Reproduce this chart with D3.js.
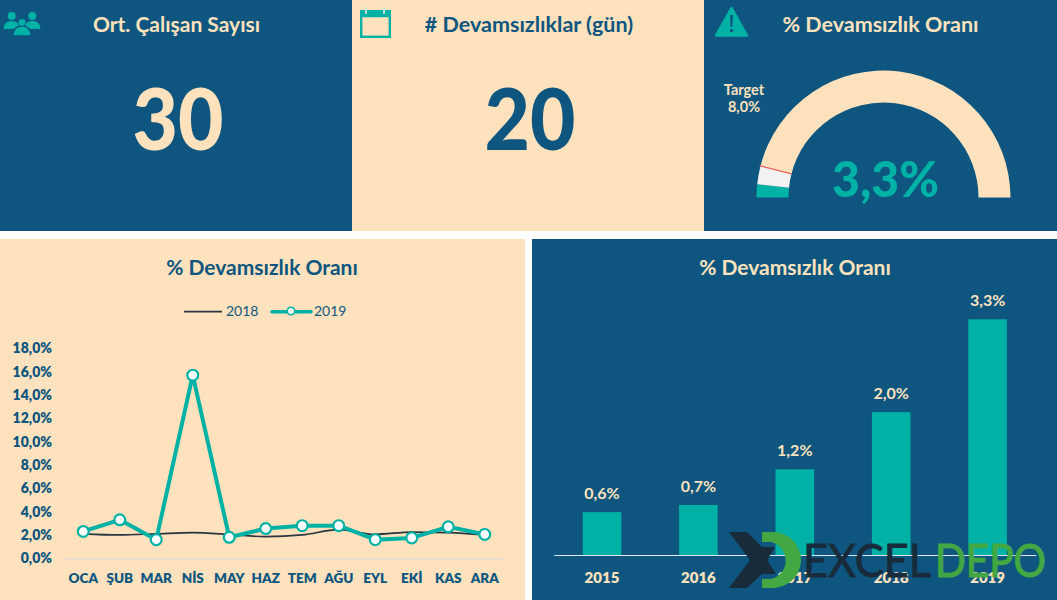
<!DOCTYPE html>
<html>
<head>
<meta charset="utf-8">
<script src="https://cdn.jsdelivr.net/npm/d3@7"></script>
<style>
    body { margin: 0; background: #fff; }
    svg { display: block; }
    text { font-family: Lato, sans-serif; }
</style>
</head>
<body>
<div id="chart"></div>
<script>
const months = ["OCA", "ŞUB", "MAR", "NİS", "MAY", "HAZ", "TEM", "AĞU", "EYL", "EKİ", "KAS", "ARA"];
const rate2018 = [2.1, 2.0, 2.1, 2.2, 2.05, 1.85, 2.0, 2.45, 2.05, 2.25, 2.2, 2.0];
const rate2019 = [2.3, 3.3, 1.6, 15.7, 1.8, 2.55, 2.8, 2.8, 1.6, 1.75, 2.7, 2.05];
const yTicks = [0, 2, 4, 6, 8, 10, 12, 14, 16, 18];
const years = ["2015", "2016", "2017", "2018", "2019"];
const yearRates = [0.6, 0.7, 1.2, 2.0, 3.3];
const gaugeParts = [3.3, 4.7, 92];
const gaugeTarget = 8;

const navy = "#0e5680", cream = "#fde2bd", teal = "#00b2a5";
const pct = v => v.toFixed(1).replace(".", ",") + "%";

const svg = d3.select("#chart").append("svg").attr("width", 1057).attr("height", 600);

function panel(x, y, w, h, fill) {
    svg.append("rect").attr("x", x).attr("y", y).attr("width", w).attr("height", h).attr("fill", fill);
}

function label(x, y, str, size, fill, weight) {
    return svg.append("text").attr("x", x).attr("y", y).attr("text-anchor", "middle")
        .attr("font-size", size).attr("font-weight", weight || 700).attr("fill", fill).text(str);
}

panel(0, 0, 352, 231, navy);
panel(352, 0, 352, 231, cream);
panel(704, 0, 353, 231, navy);
panel(0, 239, 525, 361, cream);
panel(532, 239, 525, 361, navy);

// top row
label(176.5, 32, "Ort. Çalışan Sayısı", 21, cream);
label(178, 150, "30", 85, cream, 900).attr("textLength", 91).attr("lengthAdjust", "spacingAndGlyphs");
label(529, 32, "# Devamsızlıklar (gün)", 21.5, navy);
label(530, 150, "20", 85, navy, 900).attr("textLength", 91).attr("lengthAdjust", "spacingAndGlyphs");
label(880.5, 32, "% Devamsızlık Oranı", 21.5, cream);

// icons
function peopleIcon() {
    const g = svg.append("g").attr("fill", teal);
    [[11.7, 16], [32.3, 16]].forEach(c => {
        g.append("circle").attr("cx", c[0]).attr("cy", c[1]).attr("r", 4);
        g.append("path").attr("d", `M${c[0] - 8} 29 q0 -8 8 -8 q8 0 8 8 z`);
    });
    g.append("path").attr("d", "M13 36 q0 -10 9 -10 q9 0 9 10 z").attr("stroke", navy).attr("stroke-width", 1.5);
    g.append("circle").attr("cx", 22).attr("cy", 22.5).attr("r", 4).attr("stroke", navy).attr("stroke-width", 1);
}

function calendarIcon() {
    const g = svg.append("g");
    g.append("rect").attr("x", 360).attr("y", 10).attr("width", 31).attr("height", 6.5).attr("fill", teal);
    g.append("rect").attr("x", 361.2).attr("y", 16).attr("width", 28.6).attr("height", 20.8)
        .attr("fill", "none").attr("stroke", teal).attr("stroke-width", 2.4);
    [366, 384].forEach(x => {
        g.append("line").attr("x1", x).attr("x2", x).attr("y1", 8).attr("y2", 13)
            .attr("stroke", "#bfe6d6").attr("stroke-width", 2).attr("stroke-linecap", "round");
    });
}

function warningIcon() {
    const g = svg.append("g");
    g.append("path").attr("d", "M731.5 8 L747 35.5 L716 35.5 Z").attr("fill", teal)
        .attr("stroke", teal).attr("stroke-width", 2.5).attr("stroke-linejoin", "round");
    g.append("path").attr("d", "M730 15 h3 l-0.6 12 h-1.8 z").attr("fill", navy);
    g.append("circle").attr("cx", 731.5).attr("cy", 30.5).attr("r", 1.7).attr("fill", navy);
}
peopleIcon();
calendarIcon();
warningIcon();

// gauge
const gaugeG = svg.append("g").attr("transform", "translate(883.5,197.5)");
const gaugePie = d3.pie().sort(null).startAngle(-Math.PI / 2).endAngle(Math.PI / 2);
const gaugeArc = d3.arc().innerRadius(95).outerRadius(127);
gaugeG.selectAll("path").data(gaugePie(gaugeParts)).join("path")
    .attr("d", gaugeArc)
    .attr("fill", (d, i) => [teal, "#f2f2f2", cream][i]);

const gaugeAngle = d3.scaleLinear().domain([0, 100]).range([-Math.PI / 2, Math.PI / 2]);
const ta = gaugeAngle(gaugeTarget);
gaugeG.append("line")
    .attr("x1", 95 * Math.sin(ta)).attr("y1", -95 * Math.cos(ta))
    .attr("x2", 128 * Math.sin(ta)).attr("y2", -128 * Math.cos(ta))
    .attr("stroke", "#f2605c").attr("stroke-width", 1.3);

label(744, 95, "Target", 14.5, cream);
label(744, 112, pct(gaugeTarget), 14.5, cream);
label(885.5, 197, pct(gaugeParts[0]), 50, teal, 900).attr("textLength", 107).attr("lengthAdjust", "spacingAndGlyphs");

// line chart
label(262, 275, "% Devamsızlık Oranı", 21, navy);

const xLine = d3.scaleBand().domain(months).range([65, 503]);
const yLine = d3.scaleLinear().domain([0, 18]).range([558.3, 348.3]);

const lineAxisY = svg.append("g").attr("transform", "translate(52,0)")
    .call(d3.axisLeft(yLine).tickValues(yTicks).tickFormat(pct).tickSize(0).tickPadding(0));
lineAxisY.select(".domain").remove();
lineAxisY.selectAll("text").attr("font-size", 14).attr("font-weight", 800).attr("fill", navy)
    .style("font-family", "Lato, sans-serif");

const lineAxisX = svg.append("g").attr("transform", "translate(0,558.3)")
    .call(d3.axisBottom(xLine).tickSize(0).tickPadding(15));
lineAxisX.select(".domain").attr("stroke", "#d5d9e4").attr("stroke-width", 1);
lineAxisX.selectAll("text").attr("font-size", 13.5).attr("font-weight", 800).attr("fill", navy)
    .style("font-family", "Lato, sans-serif");

const lineGen = d3.line().x((d, i) => xLine(months[i]) + xLine.bandwidth() / 2).y(d => yLine(d));
svg.append("path").datum(rate2018).attr("d", lineGen.curve(d3.curveMonotoneX))
    .attr("fill", "none").attr("stroke", "#2a3540").attr("stroke-width", 1.7);
svg.append("path").datum(rate2019).attr("d", lineGen.curve(d3.curveLinear))
    .attr("fill", "none").attr("stroke", teal).attr("stroke-width", 4).attr("stroke-linejoin", "round");
svg.append("g").selectAll("circle").data(rate2019).join("circle")
    .attr("cx", (d, i) => xLine(months[i]) + xLine.bandwidth() / 2)
    .attr("cy", d => yLine(d))
    .attr("r", 5.4)
    .attr("fill", "#fff").attr("stroke", teal).attr("stroke-width", 2.2);

// legend
svg.append("line").attr("x1", 184).attr("x2", 222).attr("y1", 311.7).attr("y2", 311.7)
    .attr("stroke", "#2a3540").attr("stroke-width", 1.7);
svg.append("text").attr("x", 226).attr("y", 316).attr("font-size", 14).attr("fill", navy).text("2018");
svg.append("line").attr("x1", 272).attr("x2", 311).attr("y1", 311.7).attr("y2", 311.7)
    .attr("stroke", teal).attr("stroke-width", 3.6).attr("stroke-linecap", "round");
svg.append("circle").attr("cx", 291).attr("cy", 311).attr("r", 3.7)
    .attr("fill", "#fff").attr("stroke", teal).attr("stroke-width", 1.6);
svg.append("text").attr("x", 314).attr("y", 316).attr("font-size", 14).attr("fill", navy).text("2019");

// bar chart
label(795, 275, "% Devamsızlık Oranı", 21, cream);

const xBar = d3.scaleBand().domain(years).range([553.8, 1035.8]).paddingInner(0.6).paddingOuter(0.3);
const yBar = d3.scaleLinear().domain([0, 3.5]).range([555, 305]);

svg.append("g").selectAll("rect").data(yearRates).join("rect")
    .attr("x", (d, i) => xBar(years[i]))
    .attr("y", d => yBar(d))
    .attr("width", xBar.bandwidth())
    .attr("height", d => yBar(0) - yBar(d))
    .attr("fill", teal);

svg.append("g").selectAll("text").data(yearRates).join("text")
    .attr("x", (d, i) => xBar(years[i]) + xBar.bandwidth() / 2)
    .attr("y", d => yBar(d) - 13)
    .attr("text-anchor", "middle").attr("font-size", 16).attr("font-weight", 700).attr("fill", cream)
    .text(pct);

const barAxisX = svg.append("g").attr("transform", "translate(0,555)")
    .call(d3.axisBottom(xBar).tickSize(0).tickPadding(17));
barAxisX.select(".domain").attr("stroke", "#dfe8ee").attr("stroke-width", 1);
barAxisX.selectAll("text").attr("font-size", 15).attr("font-weight", 800).attr("fill", cream)
    .style("font-family", "Lato, sans-serif");

// watermark logo
const logoDark = "#182b3a", logoGreen = "#43a843";
svg.append("path")
    .attr("d", "M729 532 L747 532 L762 547 L775 547 L767 560 L776 574 L762 574 L747 588 L729 588 L750 560 Z")
    .attr("fill", logoDark);
svg.append("path")
    .attr("d", "M762 532 L773 532 A28 28 0 0 1 773 588 L762 588 L762 579 L771 579 A19 19 0 0 0 771 542 L762 542 Z")
    .attr("fill", logoGreen);
svg.append("text").attr("x", 803).attr("y", 577).attr("font-size", 47).attr("fill", logoDark)
    .attr("stroke", logoDark).attr("stroke-width", 0.8)
    .attr("textLength", 128).attr("lengthAdjust", "spacingAndGlyphs").text("EXCEL");
svg.append("text").attr("x", 935).attr("y", 577).attr("font-size", 47).attr("fill", logoGreen)
    .attr("stroke", logoGreen).attr("stroke-width", 1.2)
    .attr("textLength", 111).attr("lengthAdjust", "spacingAndGlyphs").text("DEPO");
</script>
</body>
</html>
